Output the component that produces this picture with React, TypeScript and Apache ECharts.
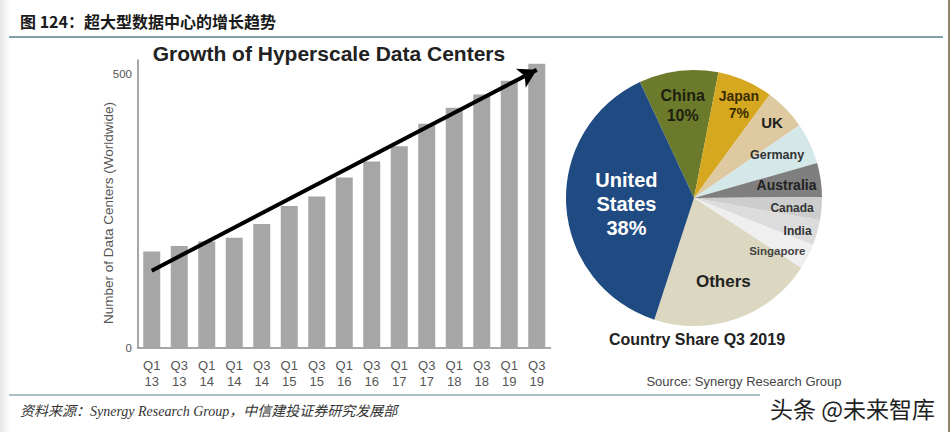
import React, { useEffect, useRef } from "react";
import * as echarts from "echarts";

// ---- data ----
const quarters = ["Q1\n13", "Q3\n13", "Q1\n14", "Q1\n14", "Q3\n14", "Q1\n15", "Q3\n15", "Q1\n16", "Q3\n16", "Q1\n17", "Q3\n17", "Q1\n18", "Q3\n18", "Q1\n19", "Q3\n19"];
const dataCenters = [176, 186, 194, 201, 226, 259, 276, 311, 340, 368, 409, 438, 462, 487, 518];
const trendStart = 141;
const trendEnd = 507;
const yTicks = [0, 500];

const countries = ["China", "Japan", "UK", "Germany", "Australia", "Canada", "India", "Singapore", "Others", "United States"];
const countryShare = [10, 7, 5.3, 5.2, 4.3, 2.9, 3.2, 3.2, 20.8, 38];
const countryLabels = ["China\n10%", "Japan\n7%", "UK", "Germany", "Australia", "Canada", "India", "Singapore", "Others", "United\nStates\n38%"];

// ---- styles ----
const sliceColors = ["#6c7b2b", "#d5a81f", "#dec9a0", "#d4e7e9", "#7f7f7f", "#cdcdcd", "#dcdcdc", "#efefef", "#dcd7c0", "#1f4b82"];
const labelColors = ["#1e1e10", "#3a2c00", "#222", "#333", "#222", "#333", "#333", "#444", "#222", "#ffffff"];
const labelSizes = [16, 14, 15, 12.5, 14, 12, 12, 11.5, 17, 20];
const labelRadius = [0.73, 0.81, 0.85, 0.73, 0.73, 0.77, 0.85, 0.77, 0.69, 0.53];
const labelAngleShift = [0, -2, 0, 2, 0, -1, -2, -5, 0, 2];

const PIE_CX = 694;
const PIE_CY = 198;
const PIE_R = 128;
const START = 115;

export default function App() {
  const ref = useRef<HTMLDivElement>(null);
  useEffect(() => {
    if (!ref.current) return;
    const chart = echarts.init(ref.current, undefined, { renderer: "svg" });
    const total = countryShare.reduce((a, b) => a + b, 0);
    const mids: number[] = [];
    let acc = START;
    countryShare.forEach((v) => {
      const span = (v / total) * 360;
      mids.push(acc - span / 2);
      acc -= span;
    });

    const option: any = {
      animation: false,
      backgroundColor: "#ffffff",
      textStyle: { fontFamily: "Liberation Sans, Arial, sans-serif" },
      grid: { left: 138, right: 400.5, top: 60, bottom: 84 },
      xAxis: {
        type: "category",
        data: quarters,
        axisLine: { lineStyle: { color: "#8a8a8a", width: 1.5 } },
        axisTick: { show: false },
        axisLabel: { color: "#555", fontSize: 13, lineHeight: 16, margin: 9, interval: 0 },
      },
      yAxis: {
        type: "value",
        min: 0,
        max: 525,
        interval: 500,
        axisLine: { show: true, lineStyle: { color: "#8a8a8a", width: 1.5 } },
        axisTick: { show: false },
        splitLine: { show: false },
        axisLabel: {
          color: "#555",
          fontSize: 11.5,
          margin: 6,
          formatter: (v: number) => (yTicks.includes(v) ? String(v) : ""),
        },
      },
      series: [
        {
          type: "bar",
          data: dataCenters,
          barWidth: 17,
          itemStyle: { color: "#a6a6a6" },
          silent: true,
          markLine: {
            silent: true,
            symbol: ["none", "arrow"],
            symbolSize: [16, 18],
            label: { show: false },
            lineStyle: { color: "#000", width: 4, type: "solid" },
            data: [[{ coord: [0, trendStart] }, { coord: [14, trendEnd] }]],
          },
        },
        {
          type: "pie",
          center: [PIE_CX, PIE_CY],
          radius: PIE_R,
          startAngle: START,
          clockwise: true,
          silent: true,
          itemStyle: { borderWidth: 0 },
          label: { show: true, position: "inside", fontWeight: "bold" },
          labelLine: { show: false },
          labelLayout: (p: any) => {
            const i = p.dataIndex;
            const a = ((mids[i] + labelAngleShift[i]) * Math.PI) / 180;
            const r = PIE_R * labelRadius[i];
            return {
              x: PIE_CX + Math.cos(a) * r,
              y: PIE_CY - Math.sin(a) * r,
              align: "center",
              verticalAlign: "middle",
            };
          },
          data: countries.map((n, i) => ({
            name: n,
            value: countryShare[i],
            itemStyle: { color: sliceColors[i] },
            label: {
              formatter: countryLabels[i],
              color: labelColors[i],
              fontSize: labelSizes[i],
              lineHeight: Math.round(labelSizes[i] * 1.22),
              fontWeight: "bold",
              align: "center",
            },
          })),
        },
      ],
      graphic: [
        {
          type: "rect",
          shape: { x: 0, y: 0, width: 9, height: 432 },
          style: {
            fill: new echarts.graphic.LinearGradient(0, 0, 1, 0, [
              { offset: 0, color: "#e6e6e6" },
              { offset: 1, color: "#fbfbfb" },
            ]),
          },
          silent: true,
        },
        {
          type: "line",
          shape: { x1: 949, y1: 0, x2: 949, y2: 432 },
          style: { stroke: "#6b5a40", lineWidth: 1.5 },
          silent: true,
        },
        {
          type: "text",
          x: 20,
          y: 21,
          style: {
            text: "图 124：超大型数据中心的增长趋势",
            font: "bold 16px 'Noto Sans CJK SC', sans-serif",
            fill: "#1a1a1a",
            verticalAlign: "middle",
          },
        },
        {
          type: "line",
          shape: { x1: 9, y1: 37, x2: 943, y2: 37 },
          style: { stroke: "#5b7f8b", lineWidth: 1.5 },
          silent: true,
        },
        {
          type: "text",
          x: 108,
          y: 213,
          rotation: Math.PI / 2,
          style: {
            text: "Number of Data Centers (Worldwide)",
            font: "13.5px 'Liberation Sans', Arial, sans-serif",
            fill: "#555",
            align: "center",
            verticalAlign: "middle",
          },
        },
        {
          type: "text",
          x: 329,
          y: 53,
          style: {
            text: "Growth of Hyperscale Data Centers",
            font: "bold 21px 'Liberation Sans', Arial, sans-serif",
            fill: "#222",
            align: "center",
            verticalAlign: "middle",
          },
        },
        {
          type: "text",
          x: 697,
          y: 339,
          style: {
            text: "Country Share Q3 2019",
            font: "bold 16px 'Liberation Sans', Arial, sans-serif",
            fill: "#222",
            align: "center",
            verticalAlign: "middle",
          },
        },
        {
          type: "text",
          x: 744,
          y: 381,
          style: {
            text: "Source: Synergy Research Group",
            font: "13px 'Liberation Sans', Arial, sans-serif",
            fill: "#444",
            align: "center",
            verticalAlign: "middle",
          },
        },
        {
          type: "line",
          shape: { x1: 9, y1: 395, x2: 760, y2: 395 },
          style: { stroke: "#5b7f8b", lineWidth: 1.2 },
          silent: true,
        },
        {
          type: "text",
          x: 20,
          y: 411,
          style: {
            text: "资料来源：Synergy Research Group，中信建投证券研究发展部",
            font: "italic 14px 'Liberation Serif', 'Noto Sans CJK SC', serif",
            fill: "#333",
            verticalAlign: "middle",
          },
        },
        {
          type: "text",
          x: 935,
          y: 408,
          style: {
            text: "头条 @未来智库",
            font: "23px 'Noto Sans CJK SC', sans-serif",
            fill: "#222",
            align: "right",
            verticalAlign: "middle",
          },
        },
      ],
    };
    chart.setOption(option);
    return () => chart.dispose();
  }, []);
  return <div ref={ref} style={{ position: "absolute", left: 0, top: 0, width: 951, height: 432 }} />;
}
